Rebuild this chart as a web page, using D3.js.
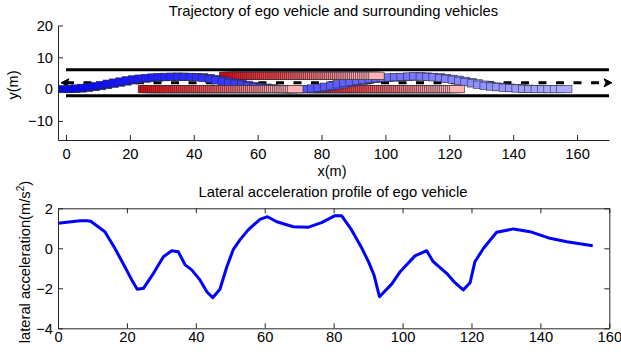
<!DOCTYPE html>
<html>
<head>
<meta charset="utf-8">
<script src="https://cdn.jsdelivr.net/npm/d3@7"></script>
<style>
  body { margin: 0; background: #fff; }
  svg { display: block; font-family: "Liberation Sans", Arial, sans-serif; }
</style>
</head>
<body>
<div id="chart"></div>
<script>
// ─── Data ─────────────────────────────────────────────────────────
// ego vehicle centre positions, one per time step (m)
const egoX = [0,2,4,6,8,10,12,14,16,18,20,22,24,26,28,30,32,34,36,38,
  40,42,44,46,48,50,52,54,56,58,60,62,64,66,68,70,72,74,76,78,
  80,82,84,86,88,90,92,94,96,98,100,102,104,106,108,110,112,114,116,118,
  120,122,124,126,128,130,132,134,136,138,140,142,144,146,148,150,152,154,156];
const egoY = [0,0.05,0.2,0.4,0.65,0.95,1.3,1.7,2.05,2.4,
  2.75,3.05,3.3,3.5,3.65,3.75,3.85,3.9,3.9,3.85,
  3.8,3.7,3.5,3.15,2.75,2.35,2.0,1.7,1.35,1.0,
  0.7,0.45,0.25,0.1,0.0,-0.05,-0.05,0.0,0.05,0.2,
  0.45,0.75,1.1,1.5,1.9,2.3,2.65,2.95,3.2,3.4,
  3.55,3.65,3.75,3.85,3.95,4.0,3.95,3.85,3.7,3.5,
  3.25,2.95,2.6,2.2,1.8,1.4,1.05,0.8,0.6,0.45,
  0.3,0.2,0.12,0.05,0,0,0,0,0];

// surrounding vehicles, x position per time step (m)
const carAX = [50.4,51.0,51.6,52.2,52.8,53.4,54.0,54.6,55.2,55.8,
  56.4,57.0,57.6,58.2,58.8,59.4,60.0,60.6,61.2,61.8,
  62.4,63.0,63.6,64.2,64.8,65.4,66.0,66.6,67.2,67.8,
  68.4,69.0,69.6,70.2,70.8,71.4,72.0,72.6,73.2,73.8,
  74.4,75.0,75.6,76.2,76.8,77.4,78.0,78.6,79.2,79.8,
  80.4,81.0,81.6,82.2,82.8,83.4,84.0,84.6,85.2,85.8,
  86.4,87.0,87.6,88.2,88.8,89.4,90.0,90.6,91.2,91.8,
  92.4,93.0,93.6,94.2,94.8,95.4,96.0,96.6,97.2];
const carBX = [25.0,25.6,26.2,26.8,27.4,28.0,28.6,29.2,29.8,30.4,
  31.0,31.6,32.2,32.8,33.4,34.0,34.6,35.2,35.8,36.4,
  37.0,37.6,38.2,38.8,39.4,40.0,40.6,41.2,41.8,42.4,
  43.0,43.6,44.2,44.8,45.4,46.0,46.6,47.2,47.8,48.4,
  49.0,49.6,50.2,50.8,51.4,52.0,52.6,53.2,53.8,54.4,
  55.0,55.6,56.2,56.8,57.4,58.0,58.6,59.2,59.8,60.4,
  61.0,61.6,62.2,62.8,63.4,64.0,64.6,65.2,65.8,66.4,
  67.0,67.6,68.2,68.8,69.4,70.0,70.6,71.2,71.8];
const carCX = [75.6,76.2,76.8,77.4,78.0,78.6,79.2,79.8,80.4,81.0,
  81.6,82.2,82.8,83.4,84.0,84.6,85.2,85.8,86.4,87.0,
  87.6,88.2,88.8,89.4,90.0,90.6,91.2,91.8,92.4,93.0,
  93.6,94.2,94.8,95.4,96.0,96.6,97.2,97.8,98.4,99.0,
  99.6,100.2,100.8,101.4,102.0,102.6,103.2,103.8,104.4,105.0,
  105.6,106.2,106.8,107.4,108.0,108.6,109.2,109.8,110.4,111.0,
  111.6,112.2,112.8,113.4,114.0,114.6,115.2,115.8,116.4,117.0,
  117.6,118.2,118.8,119.4,120.0,120.6,121.2,121.8,122.4];
const carLaneY = [4.2, 0, 0];

// road
const roadEdgeY = [-2.1, 6.1];
const roadCenterY = 2.0;
const roadX = [0, 170];

// lateral acceleration profile
const accelX = [0,6.4,8.5,9.5,13.6,16.5,19.4,21.4,23.0,24.8,27.7,30.6,33.0,34.9,36.9,38.8,41.2,43.2,44.9,47.0,
  49.0,50.9,52.8,55.2,58.6,60.8,63.5,68.3,72.5,76.5,80.4,82.3,85.2,88.2,90.1,91.7,93.3,96.9,99.3,103.6,
  107.0,108.9,112.8,115.2,117.6,119.6,121.0,123.5,127.3,132.2,137.0,142.8,147.7,155.2];
const accelY = [1.25,1.38,1.38,1.35,0.83,0,-0.92,-1.58,-2.05,-2.0,-1.25,-0.42,-0.12,-0.17,-0.83,-1.08,-1.58,-2.17,-2.47,-2.05,
  -0.92,-0.05,0.42,0.92,1.45,1.58,1.33,1.08,1.05,1.28,1.63,1.63,0.92,0,-0.67,-1.33,-2.42,-1.78,-1.17,-0.38,
  -0.12,-0.67,-1.25,-1.72,-2.08,-1.72,-0.67,0,0.8,0.97,0.83,0.5,0.33,0.13];

// ticks
const trajXTicks = [0,20,40,60,80,100,120,140,160];
const trajYTicks = [-10,0,10,20];
const accXTicks = [0,20,40,60,80,100,120,140,160];
const accYTicks = [-4,-2,0,2];

// ─── Setup ─────────────────────────────────────────────────────────
const W = 621, H = 358;
const svg = d3.select("#chart").append("svg")
  .attr("width", W).attr("height", H)
  .attr("viewBox", `0 0 ${W} ${H}`);

const axisColor = "#262626";
const tickFont = "14.7px";
const vehLen = 4.8, vehWid = 2.3;

// ─── Top: trajectory ───────────────────────────────────────────────
const xT = d3.scaleLinear().domain([-2.5, 170]).range([58, 609]);
const yT = d3.scaleLinear().domain([-16, 20]).range([140, 25.5]);

const gTop = svg.append("g");

// road edges
gTop.selectAll("line.edge")
  .data(roadEdgeY)
  .join("line")
  .attr("class", "edge")
  .attr("x1", xT(roadX[0])).attr("x2", xT(roadX[1]))
  .attr("y1", d => yT(d)).attr("y2", d => yT(d))
  .attr("stroke", "#000").attr("stroke-width", 3);

// dashed centre line with arrowheads
gTop.append("line")
  .attr("x1", xT(roadX[0])).attr("x2", xT(roadX[1]) - 4)
  .attr("y1", yT(roadCenterY)).attr("y2", yT(roadCenterY))
  .attr("stroke", "#000").attr("stroke-width", 3)
  .attr("stroke-dasharray", "8,9.5");
const cy = yT(roadCenterY);
const xr = xT(roadX[1]) + 3;
gTop.append("path")
  .attr("d", `M${xr},${cy} L${xr - 8},${cy - 4} L${xr - 6},${cy} L${xr - 8},${cy + 4} Z`)
  .attr("fill", "#000").attr("stroke", "#000").attr("stroke-width", 1);
const xl = xT(roadX[0]) - 5;
gTop.append("path")
  .attr("d", `M${xl},${cy} L${xl + 8},${cy - 4} L${xl + 6},${cy} L${xl + 8},${cy + 4} Z`)
  .attr("fill", "#000").attr("stroke", "#000").attr("stroke-width", 1);

// vehicles, drawn step by step so later positions overlay earlier ones
const nSteps = egoX.length;
const egoColor = d3.interpolateRgb("#0000ff", "#ababff");
const carColor = d3.interpolateRgb("#ff0000", "#ffb4b4");
const steps = [];
for (let k = 0; k < nSteps; k++) {
  const t = k / (nSteps - 1);
  steps.push({ x: egoX[k], y: egoY[k], fill: egoColor(t) });
  [carAX, carBX, carCX].forEach((arr, i) => {
    steps.push({ x: arr[k], y: carLaneY[i], fill: carColor(t) });
  });
}

gTop.append("g")
  .selectAll("rect")
  .data(steps)
  .join("rect")
  .attr("x", d => xT(d.x - vehLen / 2))
  .attr("width", d => xT(d.x + vehLen / 2) - xT(d.x - vehLen / 2))
  .attr("y", d => yT(d.y + vehWid / 2))
  .attr("height", d => yT(d.y - vehWid / 2) - yT(d.y + vehWid / 2))
  .attr("fill", d => d.fill)
  .attr("stroke", "#2a2a3a")
  .attr("stroke-width", 0.6);

// axes (ticks inward, no box)
const gxT = gTop.append("g")
  .attr("transform", `translate(0,140)`)
  .call(d3.axisBottom(xT).tickValues(trajXTicks).tickSize(-5).tickPadding(9).tickSizeOuter(0));
const gyT = gTop.append("g")
  .attr("transform", `translate(58,0)`)
  .call(d3.axisLeft(yT).tickValues(trajYTicks).tickSize(-5).tickPadding(5).tickSizeOuter(0)
    .tickFormat(d => d < 0 ? "\u2212" + Math.abs(d) : d));
[gxT, gyT].forEach(g => {
  g.select(".domain").attr("stroke", axisColor);
  g.selectAll(".tick line").attr("stroke", axisColor);
  g.selectAll(".tick text").attr("fill", "#000").style("font-size", tickFont)
    .style("font-family", "'Liberation Sans', Arial, sans-serif");
});

gTop.append("text")
  .attr("x", 333.5).attr("y", 15.5)
  .attr("text-anchor", "middle")
  .style("font-size", "14.8px")
  .text("Trajectory of ego vehicle and surrounding vehicles");

gTop.append("text")
  .attr("x", 332).attr("y", 175.5)
  .attr("text-anchor", "middle")
  .style("font-size", "14.5px")
  .text("x(m)");

gTop.append("text")
  .attr("transform", "translate(17.5,85) rotate(-90)")
  .attr("text-anchor", "middle")
  .style("font-size", "14.5px")
  .text("y(m)");

// ─── Bottom: lateral acceleration ──────────────────────────────────
const xA = d3.scaleLinear().domain([0, 160]).range([58, 609.3]);
const yA = d3.scaleLinear().domain([-4, 2]).range([328.3, 208.3]);

const gBot = svg.append("g");

gBot.append("path")
  .datum(accelX.map((x, i) => [x, accelY[i]]))
  .attr("d", d3.line().x(d => xA(d[0])).y(d => yA(d[1])))
  .attr("fill", "none")
  .attr("stroke", "#0000ff")
  .attr("stroke-width", 3)
  .attr("stroke-linejoin", "round");

const gxA = gBot.append("g")
  .attr("transform", `translate(0,328.3)`)
  .call(d3.axisBottom(xA).tickValues(accXTicks).tickSize(-5).tickPadding(3).tickSizeOuter(0));
const gxA2 = gBot.append("g")
  .attr("transform", `translate(0,208.3)`)
  .call(d3.axisTop(xA).tickValues(accXTicks).tickSize(-5).tickFormat("").tickSizeOuter(0));
const gyA = gBot.append("g")
  .attr("transform", `translate(58,0)`)
  .call(d3.axisLeft(yA).tickValues(accYTicks).tickSize(-5).tickPadding(5).tickSizeOuter(0)
    .tickFormat(d => d < 0 ? "\u2212" + Math.abs(d) : d));
const gyA2 = gBot.append("g")
  .attr("transform", `translate(609.3,0)`)
  .call(d3.axisRight(yA).tickValues(accYTicks).tickSize(-5).tickFormat("").tickSizeOuter(0));
[gxA, gxA2, gyA, gyA2].forEach(g => {
  g.select(".domain").attr("stroke", axisColor);
  g.selectAll(".tick line").attr("stroke", axisColor);
  g.selectAll(".tick text").attr("fill", "#000").style("font-size", tickFont)
    .style("font-family", "'Liberation Sans', Arial, sans-serif");
});

gBot.append("text")
  .attr("x", 333).attr("y", 197.2)
  .attr("text-anchor", "middle")
  .style("font-size", "14.8px")
  .text("Lateral acceleration profile of ego vehicle");

const yl = gBot.append("text")
  .attr("transform", "translate(30,262) rotate(-90)")
  .attr("text-anchor", "middle")
  .style("font-size", "14.7px");
yl.append("tspan").text("lateral acceleration(m/s");
yl.append("tspan").attr("dy", -6).style("font-size", "10px").text("2");
yl.append("tspan").attr("dy", 6).text(")");
</script>
</body>
</html>
